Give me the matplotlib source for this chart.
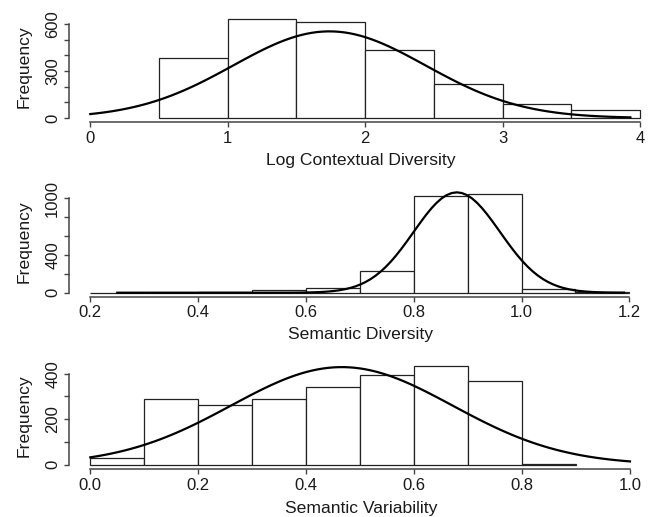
import numpy as np
import matplotlib.pyplot as plt

plt.rcParams['font.family'] = ['Liberation Sans', 'DejaVu Sans']

W, H = 653, 517   # output size in pixels

# ============================================================
# Data
# ============================================================
# Log Contextual Diversity
lcd_edges = [0.5, 1.0, 1.5, 2.0, 2.5, 3.0, 3.5, 4.0]
lcd_counts = [383, 632, 613, 436, 215, 91, 49]
lcd_fit = [1.74, 0.70, 553]        # mean, sd, peak height of normal curve
lcd_curve_span = [0.0, 3.93]

# Semantic Diversity
sd_edges = [0.2, 0.3, 0.4, 0.5, 0.6, 0.7, 0.8, 0.9, 1.0, 1.1, 1.2]
sd_counts = [1, 2, 3, 25, 49, 230, 1024, 1045, 42, 12]
sd_fit = [0.88, 0.080, 1063]
sd_curve_span = [0.25, 1.19]

# Semantic Variability
sv_edges = [0.0, 0.1, 0.2, 0.3, 0.4, 0.5, 0.6, 0.7, 0.8, 0.9]
sv_counts = [28, 287, 264, 287, 340, 393, 434, 369, 3]
sv_fit = [0.466, 0.205, 429]
sv_curve_span = [0.0, 1.0]

lcd_xticks = [0, 1, 2, 3, 4]
lcd_xlabels = ["0", "1", "2", "3", "4"]
lcd_yticks = [0, 100, 200, 300, 400, 500, 600]
lcd_ylabels = ["0", "", "", "300", "", "", "600"]

sd_xticks = [0.2, 0.4, 0.6, 0.8, 1.0, 1.2]
sd_xlabels = ["0.2", "0.4", "0.6", "0.8", "1.0", "1.2"]
sd_yticks = [0, 200, 400, 600, 800, 1000]
sd_ylabels = ["0", "", "400", "", "", "1000"]

sv_xticks = [0.0, 0.2, 0.4, 0.6, 0.8, 1.0]
sv_xlabels = ["0.0", "0.2", "0.4", "0.6", "0.8", "1.0"]
sv_yticks = [0, 100, 200, 300, 400]
sv_ylabels = ["0", "", "200", "", "400"]


# ============================================================
# Helpers (pixel layout -> figure / data coordinates)
# ============================================================
def px_rect(left, top, right, bottom):
    return [left / W, 1 - bottom / H, (right - left) / W, (bottom - top) / H]


def lim_from(v0, p0, v1, p1, pa, pb):
    k = (v1 - v0) / (p1 - p0)
    return v0 + (pa - p0) * k, v0 + (pb - p0) * k


AX_COL = "#444444"
TXT_COL = "#1a1a1a"

fig = plt.figure(figsize=(W / 100, H / 100), dpi=100)

panels = [
    # rect px (l, t, r, b), x calib, y calib, label y px
    dict(edges=lcd_edges, counts=lcd_counts, fit=lcd_fit, span=lcd_curve_span,
         xt=lcd_xticks, xl=lcd_xlabels, yt=lcd_yticks, yl=lcd_ylabels,
         title="Log Contextual Diversity",
         rect=(69, 12, 653, 122.3), xcal=(0, 90.3, 4, 640), ycal=(0, 118, 600, 24),
         title_y=161, ylab_y=67),
    dict(edges=sd_edges, counts=sd_counts, fit=sd_fit, span=sd_curve_span,
         xt=sd_xticks, xl=sd_xlabels, yt=sd_yticks, yl=sd_ylabels,
         title="Semantic Diversity",
         rect=(69, 185, 653, 296.7), xcal=(0.2, 90.3, 1.2, 629.3), ycal=(0, 292.7, 1000, 198.3),
         title_y=335, ylab_y=242),
    dict(edges=sv_edges, counts=sv_counts, fit=sv_fit, span=sv_curve_span,
         xt=sv_xticks, xl=sv_xlabels, yt=sv_yticks, yl=sv_ylabels,
         title="Semantic Variability",
         rect=(69, 364, 653, 469), xcal=(0, 90.3, 1.0, 630), ycal=(0, 464.7, 400, 373.7),
         title_y=508, ylab_y=416),
]

for p in panels:
    l, t, r, b = p["rect"]
    ax = fig.add_axes(px_rect(l, t, r, b))
    ax.set_xlim(*lim_from(*p["xcal"], l, r))
    ax.set_ylim(*lim_from(*p["ycal"], b, t))

    # histogram bars
    edges = np.array(p["edges"])
    ax.bar(edges[:-1], p["counts"], width=np.diff(edges), align="edge",
           facecolor="white", edgecolor="#222222", linewidth=0.9, zorder=2)

    # fitted normal curve
    mu, sd, peak = p["fit"]
    xs = np.linspace(p["span"][0], p["span"][1], 101)
    ax.plot(xs, peak * np.exp(-0.5 * ((xs - mu) / sd) ** 2),
            color="black", linewidth=1.6, zorder=3)

    # R-style detached axes
    for side in ("top", "right"):
        ax.spines[side].set_visible(False)
    ax.spines["left"].set_bounds(p["yt"][0], p["yt"][-1])
    ax.spines["bottom"].set_bounds(p["xt"][0], p["xt"][-1])
    for side in ("left", "bottom"):
        ax.spines[side].set_color(AX_COL)
        ax.spines[side].set_linewidth(1.1)

    ax.set_xticks(p["xt"])
    ax.set_xticklabels(p["xl"])
    ax.set_yticks(p["yt"])
    ax.set_yticklabels(p["yl"], rotation=90, va="center")
    ax.tick_params(direction="out", length=3.3, width=1.0, color=AX_COL,
                   labelsize=12, labelcolor=TXT_COL, pad=3)
    ax.patch.set_visible(False)

    fig.text(((l + r) / 2) / W, 1 - p["title_y"] / H, p["title"],
             ha="center", va="center", fontsize=12.6, color=TXT_COL)
    fig.text(24 / W, 1 - p["ylab_y"] / H, "Frequency", rotation=90,
             ha="center", va="center", fontsize=12.6, color=TXT_COL)

fig.savefig("out.png", dpi=100, facecolor="white")
